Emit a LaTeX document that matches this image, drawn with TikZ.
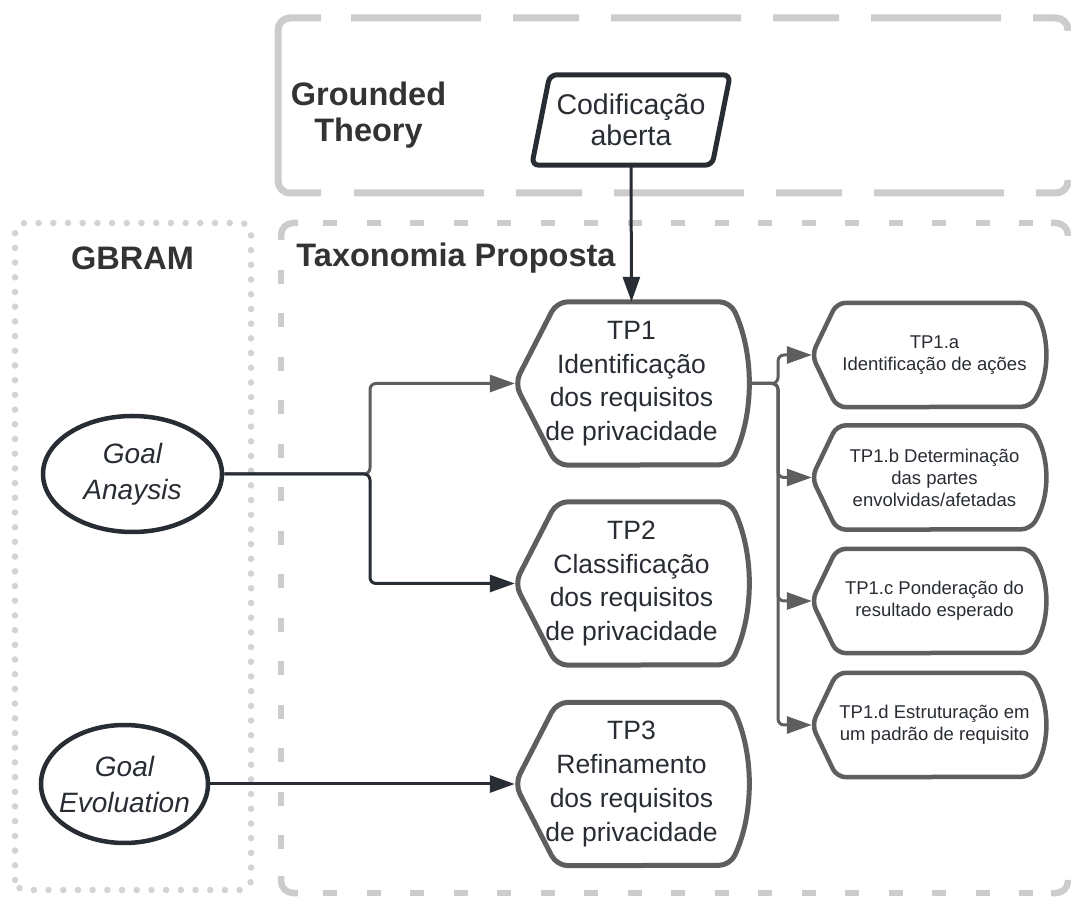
\documentclass[tikz,border=0pt]{standalone}
\usepackage{fontspec}
\setmainfont{Liberation Sans}
\usetikzlibrary{arrows.meta,calc,shapes.geometric}

\definecolor{ink}{HTML}{282C33}
\definecolor{greyline}{HTML}{5E5E5E}
\definecolor{frame}{HTML}{CCCCCC}
\definecolor{dotframe}{HTML}{D3D3D3}
\definecolor{labelink}{HTML}{333333}

% outline of a "display" box: pointed left end, right end bulging as a circular arc
% #1 node, #2 depth of the point, #3 bulge, #4 half height, #5 style
\newcommand{\displayoutline}[5]{%
  \pgfmathsetmacro{\dspR}{(#4*#4+#3*#3)/(2*#3)}%
  \pgfmathsetmacro{\dspA}{asin(#4/\dspR)}%
  \draw[#5] (#1.west) -- ($(#1.north west)+(#2,0)$) -- ($(#1.north east)+(-#3,0)$)
    arc[start angle=\dspA, end angle=-\dspA, radius=\dspR]
    -- ($(#1.south west)+(#2,0)$) -- cycle;}

\begin{document}
\begin{tikzpicture}[x=1pt,y=1pt,
  tpbox/.style={minimum width=233pt, minimum height=163pt, inner sep=0pt,
    align=center, text=ink, font=\fontsize{26.5}{33.7}\selectfont},
  subbox/.style={minimum width=233pt, minimum height=104pt, inner sep=0pt},
  subtext/.style={inner sep=0pt, align=center, text=ink,
    font=\fontsize{18.5}{22}\selectfont},
  tpline/.style={draw=greyline, line width=5pt, rounded corners=11pt},
  subline/.style={draw=greyline, line width=4.5pt, rounded corners=9pt},
  goal/.style={ellipse, draw=ink, line width=4.5pt, inner sep=0pt},
  goaltext/.style={align=center, text=ink, inner sep=0pt,
    font=\itshape\fontsize{28}{36}\selectfont},
  darkarrow/.style={draw=ink, line width=3pt, rounded corners=6pt,
    -{Triangle[length=25pt,width=17pt]}},
  greyarrow/.style={draw=greyline, line width=3pt, rounded corners=6pt,
    -{Triangle[length=25pt,width=17pt]}},
  heading/.style={font=\bfseries\fontsize{32.5}{36}\selectfont, text=labelink, align=center},
  gtframe/.style={draw=frame, line width=7pt, rounded corners=12pt},
  gtdash/.style={gtframe, dash pattern=on 130pt off 32pt on 66pt off 32pt},
  taxframe/.style={draw=frame, line width=6.5pt, rounded corners=12pt},
  taxdash/.style={draw=frame, line width=6.5pt, dash pattern=on 14pt off 29.5pt},
  dotbox/.style={draw=dotframe, line width=6.5pt, line cap=round,
    dash pattern=on 0pt off 14.7pt, rounded corners=10pt},
]
\useasboundingbox (0,0) rectangle (1071,897);

% ---- Grounded Theory frame (long/short dashes, solid left bracket)
\draw[gtframe] (321,879) -- (278,879) -- (278,704) -- (321,704);
\draw[gtdash] (351,879) -- (1068,879) -- (1068,866);
\draw[gtdash] (354,704) -- (1068,704) -- (1068,717);

% ---- Taxonomia Proposta frame
\draw[taxframe] (281,657) -- (281,674) -- (298,674);
\draw[taxframe] (1051,674) -- (1068,674) -- (1068,661);
\draw[taxframe] (281,21) -- (281,4) -- (298,4);
\draw[taxframe] (1051,4) -- (1068,4) -- (1068,17);
\draw[taxdash] (323,674) -- (1036,674);
\draw[taxdash] (323,4) -- (1036,4);
\draw[taxdash] (281,627) -- (281,40);

% ---- GBRAM frame (dotted)
\draw[dotbox] (15,7) rectangle (251,674);

% ---- headings
\node[heading] (hgt) at (368.5,782) {Grounded\\Theory};
\node[heading] (htax) at (456,639) {Taxonomia Proposta};
\node[heading] (hgb) at (132.5,639) {GBRAM};

% ---- open coding (parallelogram)
\node[minimum width=180pt, minimum height=90pt, inner sep=0pt, align=center,
  text=ink, font=\fontsize{28.5}{31.5}\selectfont] (cod) at (631,777)
  {Codificação\\aberta};
\draw[draw=ink, line width=5pt, rounded corners=7pt]
  ($(cod.north west)+(9,0)$) -- ($(cod.north east)+(9,0)$)
  -- ($(cod.south east)+(-9,0)$) -- ($(cod.south west)+(-9,0)$) -- cycle;

% ---- taxonomy steps
\node[tpbox] (tp1) at (631.5,513.5) {TP1\\Identificação\\dos requisitos\\de privacidade};
\node[tpbox] (tp2) at (631.5,313.5) {TP2\\Classificação\\dos requisitos\\de privacidade};
\node[tpbox] (tp3) at (631.5,113) {TP3\\Refinamento\\dos requisitos\\de privacidade};
\displayoutline{tp1}{42}{18}{81.5}{tpline}
\displayoutline{tp2}{42}{18}{81.5}{tpline}
\displayoutline{tp3}{42}{18}{81.5}{tpline}

% ---- sub-steps of TP1 (text sits in the body, right of the point)
\node[subbox] (sa) at (928.5,542) {};
\node[subbox] (sb) at (928.5,419.5) {};
\node[subbox] (sc) at (928.5,296) {};
\node[subbox] (sd) at (928.5,172) {};
\node[subtext] (sat) at ($(sa)+(6,0)$) {TP1.a\\Identificação de ações};
\node[subtext] (sbt) at ($(sb)+(6,0)$) {TP1.b Determinação\\das partes\\envolvidas/afetadas};
\node[subtext] (sct) at ($(sc)+(6,0)$) {TP1.c Ponderação do\\resultado esperado};
\node[subtext] (sdt) at ($(sd)+(6,0)$) {TP1.d Estruturação em\\um padrão de requisito};
\foreach \s in {sa,sb,sc,sd}{\displayoutline{\s}{25}{15}{52}{subline}}

% ---- GBRAM goals
\node[goal, minimum width=179pt, minimum height=116pt] (ga) at (132.5,423) {};
\node[goaltext] (gat) at (ga) {Goal\\Anaysis};
\node[goal, minimum width=167pt, minimum height=118pt] (ge) at (124.5,113) {};
\node[goaltext] (get) at (ge) {Goal\\Evoluation};

% ---- connectors
\coordinate (gsplit) at (370,423);
\coordinate (ssplit) at (778,513.5);
\draw[darkarrow] (cod.south) -- (tp1.north);
\draw[greyarrow] (ga.east) -- (gsplit) |- (tp1.west);
\draw[darkarrow] (ga.east) -- (gsplit) |- (tp2.west);
\draw[darkarrow] (ge.east) -- (tp3.west);
\foreach \s in {sa,sb,sc,sd}{\draw[greyarrow] (tp1.east) -- (ssplit) |- (\s.west);}
\end{tikzpicture}
\end{document}
